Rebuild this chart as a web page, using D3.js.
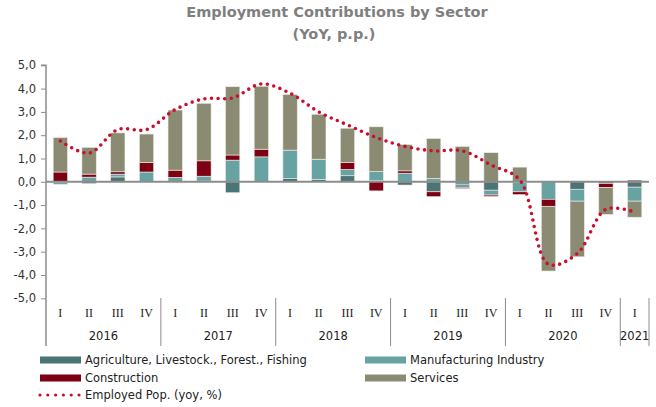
<!DOCTYPE html>
<html>
<head>
<meta charset="utf-8">
<script src="https://cdn.jsdelivr.net/npm/d3@7"></script>
<style>
  html, body { margin: 0; padding: 0; background: #fff; }
  svg { display: block; }
</style>
</head>
<body>
<svg id="chart" width="656" height="407"></svg>
<script>
// Quarters and years shown on the category axis
const quarters = ["I","II","III","IV","I","II","III","IV","I","II","III","IV","I","II","III","IV","I","II","III","IV","I"];
const years = ["2016","2017","2018","2019","2020","2021"];
const yearQuarterCounts = [4, 4, 4, 4, 4, 1];
const yTicks = [5, 4, 3, 2, 1, 0, -1, -2, -3, -4, -5];

// Contributions by sector (percentage points)
const agriculture   = [-0.04,-0.08, 0.21, 0.00, 0.02, 0.03,-0.47, 0.00, 0.14, 0.10, 0.26, 0.05,-0.14,-0.43,-0.10,-0.36,-0.04, 0.00,-0.32,-0.07,-0.23];
const manufacturing = [-0.07, 0.20, 0.12, 0.42, 0.17, 0.21, 0.93, 1.07, 1.22, 0.87, 0.27, 0.39, 0.37, 0.14,-0.14,-0.21,-0.39,-0.75,-0.51, 0.00,-0.60];
const construction  = [ 0.42, 0.13, 0.10, 0.41, 0.31, 0.66, 0.22, 0.33, 0.00, 0.00, 0.29,-0.39, 0.10,-0.21,-0.05,-0.06,-0.12,-0.30, 0.00,-0.17, 0.07];
const services      = [ 1.48, 1.15, 1.67, 1.22, 2.58, 2.47, 2.93, 2.70, 2.39, 1.93, 1.48, 1.92, 1.13, 1.72, 1.52, 1.25, 0.63,-2.78,-2.39,-1.16,-0.69];
// Employed population, year-on-year change (%)
const employedPop   = [ 1.75, 1.23, 2.24, 2.24, 3.10, 3.56, 3.60, 4.20, 3.80, 3.00, 2.44, 1.90, 1.52, 1.33, 1.33, 0.72, 0.08,-3.54,-3.08,-1.18,-1.30];

const seriesNames = ["Agriculture, Livestock., Forest., Fishing", "Manufacturing Industry", "Construction", "Services"];
const seriesColors = ["#4b7474", "#68a3a3", "#7d0013", "#8b8a73"];
const lineName = "Employed Pop. (yoy, %)";
const lineColor = "#c8102e";

const svg = d3.select("#chart");
const keys = ["agri", "manu", "cons", "serv"];
const rows = quarters.map((q, i) => ({
  idx: i, agri: agriculture[i], manu: manufacturing[i], cons: construction[i], serv: services[i]
}));

const x = d3.scaleBand().domain(d3.range(quarters.length)).range([46, 649]).paddingInner(0.5).paddingOuter(0.25);
const y = d3.scaleLinear().domain([-5, 5]).range([298.3, 65.3]);

// Title
const title = svg.append("g").attr("font-family", "DejaVu Sans, Verdana, sans-serif")
  .attr("font-weight", "bold").attr("fill", "#7f7f7f").attr("text-anchor", "middle");
title.append("text").attr("x", 337).attr("y", 17).attr("font-size", 14.5).text("Employment Contributions by Sector");
title.append("text").attr("x", 334).attr("y", 39).attr("font-size", 14.5).text("(YoY, p.p.)");

// Stacked bars, positives above zero and negatives below
const stacked = d3.stack().keys(keys).offset(d3.stackOffsetDiverging)(rows);
svg.append("g").selectAll("g").data(stacked).join("g")
  .attr("fill", (d, i) => seriesColors[i])
  .selectAll("rect").data(d => d).join("rect")
  .attr("x", d => x(d.data.idx))
  .attr("width", x.bandwidth())
  .attr("y", d => y(Math.max(d[0], d[1])))
  .attr("height", d => Math.abs(y(d[0]) - y(d[1])))
  .attr("stroke", "#eeeee8").attr("stroke-width", 0.6);

// Y axis
const yAxis = d3.axisLeft(y).tickValues(yTicks).tickSize(5).tickPadding(5)
  .tickFormat(d => d3.format(".1f")(d).replace(".", ",").replace("−", "-"));
const gy = svg.append("g").attr("transform", "translate(46,0)").call(yAxis);
gy.select(".domain").attr("stroke", "#8c8c8c").attr("stroke-width", 1.5).attr("d", "M-5,65.3H0V346");
gy.selectAll(".tick line").attr("stroke", "#8c8c8c");
gy.selectAll(".tick text").attr("font-family", "DejaVu Sans, Verdana, sans-serif")
  .attr("font-size", 11.5).attr("fill", "#333");

// Zero line
svg.append("line").attr("x1", 46).attr("x2", 649).attr("y1", y(0)).attr("y2", y(0))
  .attr("stroke", "#8c8c8c").attr("stroke-width", 2);

// Category axis: quarter labels, year labels, and year separators
const cx = i => x(i) + x.bandwidth() / 2;
svg.append("g").selectAll("text").data(quarters).join("text")
  .attr("x", (d, i) => cx(i)).attr("y", 317)
  .attr("text-anchor", "middle").attr("font-family", "Liberation Serif, Times New Roman, serif")
  .attr("font-size", 12).attr("fill", "#222").text(d => d);

const step = x.step();
let start = 0;
const yearSpans = years.map((yr, k) => {
  const s = start; start += yearQuarterCounts[k];
  return { yr, x0: 46 + s * step, x1: 46 + start * step };
});
svg.append("g").selectAll("line").data(yearSpans).join("line")
  .attr("x1", d => d.x1).attr("x2", d => d.x1).attr("y1", 298).attr("y2", 346)
  .attr("stroke", "#8c8c8c").attr("stroke-width", 1);
svg.append("g").selectAll("text").data(yearSpans).join("text")
  .attr("x", d => (d.x0 + d.x1) / 2).attr("y", 340)
  .attr("text-anchor", "middle").attr("font-family", "DejaVu Sans, Verdana, sans-serif")
  .attr("font-size", 11.5).attr("fill", "#222").text(d => d.yr);

// Employed population line (dotted, smoothed)
const line = d3.line().x((d, i) => cx(i)).y(d => y(d)).curve(d3.curveCatmullRom.alpha(0.5));
svg.append("path").datum(employedPop).attr("d", line)
  .attr("fill", "none").attr("stroke", lineColor).attr("stroke-width", 3.6)
  .attr("stroke-linecap", "round").attr("stroke-dasharray", "0,6.6");

// Legend
const legend = svg.append("g").attr("font-family", "DejaVu Sans, Verdana, sans-serif")
  .attr("font-size", 11.5).attr("fill", "#222");
const legendPos = [[40, 360], [365, 360], [40, 378], [365, 378]];
seriesNames.forEach((name, i) => {
  const [lx, ly] = legendPos[i];
  legend.append("rect").attr("x", lx).attr("y", ly - 3.5).attr("width", 41).attr("height", 7).attr("fill", seriesColors[i]);
  legend.append("text").attr("x", lx + 45).attr("y", ly + 4).text(name);
});
legend.append("line").attr("x1", 40).attr("x2", 80).attr("y1", 395).attr("y2", 395)
  .attr("stroke", lineColor).attr("stroke-width", 3.2).attr("stroke-linecap", "round").attr("stroke-dasharray", "0,7.8");
legend.append("text").attr("x", 85).attr("y", 399).text(lineName);
</script>
</body>
</html>
